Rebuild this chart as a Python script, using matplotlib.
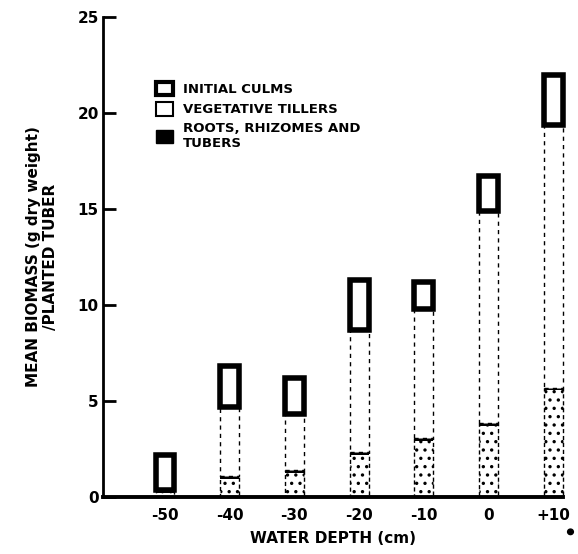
import numpy as np
import matplotlib.pyplot as plt
from matplotlib.patches import Rectangle

# Значения (г сухого веса на посаженный клубень)
depths = [-50, -40, -30, -20, -10, 0, 10]
depth_labels = ['-50', '-40', '-30', '-20', '-10', '0', '+10']
roots = [0.35, 1.1, 1.4, 2.35, 3.05, 3.85, 5.7]
tillers = [0.0, 3.6, 2.9, 6.35, 6.75, 11.05, 13.7]
culms = [1.85, 2.1, 1.9, 2.6, 1.4, 1.8, 2.6]

plt.rcParams['font.family'] = ['DejaVu Sans']
plt.rcParams['font.weight'] = 'bold'
plt.rcParams['axes.labelweight'] = 'bold'
plt.rcParams['hatch.linewidth'] = 1.2

fig = plt.figure(figsize=(5.78, 5.54), dpi=100)
ax = fig.add_axes([0.178, 0.103, 0.796, 0.866])

x = np.array(depths)
w = 2.9
roots = np.array(roots)
tillers = np.array(tillers)
culms = np.array(culms)

bars = []
bars += ax.bar(x, roots, w, color='white', edgecolor='black', hatch='..',
               linewidth=1.0, linestyle=(0, (3, 2)))
# тёмная линия по верху корней
bars += ax.bar(x, 0.14, w, bottom=roots - 0.14, color='black', linewidth=0)
bars += ax.bar(x, tillers, w, bottom=roots, color='white', edgecolor='black',
               linewidth=1.0, linestyle=(0, (3, 3)))
bars += ax.bar(x, culms, w, bottom=roots + tillers, color='white',
               edgecolor='black', linewidth=4)
for b in bars:
    b.set_clip_on(False)

ax.set_xlim(-59.6, 11.5)
ax.set_ylim(0, 25)
ax.set_xticks(depths)
ax.set_xticklabels(depth_labels)
ax.set_yticks([0, 5, 10, 15, 20, 25])
ax.tick_params(axis='x', length=0, pad=8, labelsize=11)
ax.tick_params(axis='y', direction='in', length=9, width=2, labelsize=11, pad=3)

for s in ['top', 'right']:
    ax.spines[s].set_visible(False)
ax.spines['left'].set_linewidth(2)
ax.spines['bottom'].set_linewidth(2.8)
ax.spines['bottom'].set_zorder(5)

ax.set_xlabel('WATER DEPTH (cm)', fontsize=11, labelpad=6)
ax.set_ylabel('MEAN BIOMASS (g dry weight)\n/PLANTED TUBER', fontsize=11,
              labelpad=14, linespacing=1.15)

handles = [
    Rectangle((0, 0), 1, 1, facecolor='white', edgecolor='black', linewidth=3),
    Rectangle((0, 0), 1, 1, facecolor='white', edgecolor='black', linewidth=1.5),
    Rectangle((0, 0), 1, 1, facecolor='black', edgecolor='black', hatch='..'),
]
labels = ['INITIAL CULMS', 'VEGETATIVE TILLERS', 'ROOTS, RHIZOMES AND\nTUBERS']
ax.legend(handles, labels, loc='upper left', bbox_to_anchor=(0.09, 0.89),
          frameon=False, fontsize=9.5, handlelength=1.3, handleheight=1.2,
          labelspacing=0.45, handletextpad=0.7)

fig.add_artist(plt.Circle((0.987, 0.04), 0.005, color='black',
                          transform=fig.transFigure))

plt.savefig('out.png', dpi=100)
